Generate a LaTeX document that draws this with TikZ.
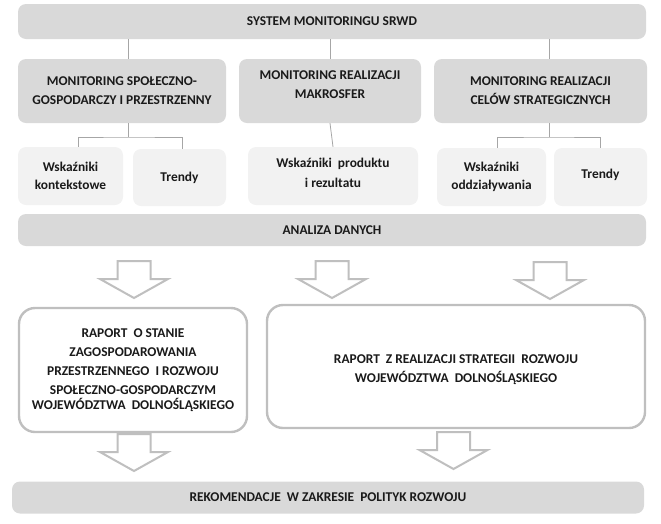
\documentclass[tikz,border=0pt]{standalone}
\usepackage{fontspec}
\setmainfont{Carlito}
\usepackage{xcolor}
\usepackage{tikz}
\usetikzlibrary{calc}
\definecolor{SrwdGray}{HTML}{D9D9D9}
\definecolor{SrwdLight}{HTML}{F2F2F2}
\definecolor{SrwdLine}{HTML}{A6A6A6}
\definecolor{SrwdFrame}{HTML}{BFBFBF}
\definecolor{SrwdText}{HTML}{1A1A1A}
\tikzset{
  basebox/.style={align=center,inner sep=0pt,text=SrwdText,font=\bfseries\fontsize{13.4}{19}\selectfont},
  graybox/.style={basebox,fill=SrwdGray,rounded corners=8pt},
  lightbox/.style={basebox,fill=SrwdLight,rounded corners=8pt,font=\bfseries\fontsize{13.4}{17.5}\selectfont},
  reportbox/.style={basebox,draw=SrwdFrame,line width=2.4pt,fill=white,rounded corners=16pt},
  boxtext/.style={basebox,text=SrwdText},
  link/.style={draw=SrwdLine,line width=0.8pt},
  blockline/.style={draw=SrwdFrame,line width=2pt,line join=miter,fill=white},
  downblock/.pic={\draw[blockline] (-16.5,0) -- (16.5,0) -- (16.5,18) -- (34,18) -- (0,37) -- (-34,18) -- (-16.5,18) -- cycle;}
}

\begin{document}
\begin{tikzpicture}[x=1pt,y=-1pt]
\useasboundingbox (0,0) rectangle (661,523);
% top level
\node[graybox,minimum width=628pt,minimum height=35pt] (sys) at (332,21.5) {SYSTEM MONITORINGU SRWD};
\node[graybox,minimum width=208pt,minimum height=64pt] (mon1) at (122,91) {MONITORING SPOŁECZNO-\\GOSPODARCZY I PRZESTRZENNY};
\node[graybox,minimum width=182pt,minimum height=64pt,
  label={[boxtext,yshift=6pt]center:MONITORING REALIZACJI\\MAKROSFER}] (mon2) at (330,91) {};
\node[graybox,minimum width=213pt,minimum height=64pt] (mon3) at (540.5,91) {MONITORING REALIZACJI\\CELÓW STRATEGICZNYCH};
% indicators
\node[lightbox,minimum width=105pt,minimum height=58pt] (wsk1) at (70.5,176) {Wskaźniki\\kontekstowe};
\node[lightbox,minimum width=93pt,minimum height=57pt] (tr1) at (179.5,177.5) {Trendy};
\node[lightbox,minimum width=170pt,minimum height=58pt,
  label={[boxtext,yshift=3pt,font=\bfseries\fontsize{13.4}{20}\selectfont]center:Wskaźniki\ \ produktu\\i rezultatu}] (wsk2) at (333,176) {};
\node[lightbox,minimum width=109pt,minimum height=58pt] (wsk3) at (491.5,177) {Wskaźniki\\oddziaływania};
\node[lightbox,minimum width=93pt,minimum height=58pt,
  label={[boxtext,yshift=2pt]center:Trendy}] (tr3) at (600.5,177) {};
\node[graybox,minimum width=628pt,minimum height=32pt] (anal) at (332,230) {ANALIZA DANYCH};
% reports
\node[reportbox,minimum width=228pt,minimum height=124pt] (rap1) at (133,370) {RAPORT\ \ O STANIE\\ZAGOSPODAROWANIA\\PRZESTRZENNEGO\ \ I ROZWOJU\\SPOŁECZNO-GOSPODARCZYM\\[-4pt]WOJEWÓDZTWA\ \ DOLNOŚLĄSKIEGO};
\node[reportbox,minimum width=378pt,minimum height=123pt,
  label={[boxtext,yshift=-3pt]center:RAPORT\ \ Z REALIZACJI STRATEGII\ \ ROZWOJU\\WOJEWÓDZTWA\ \ DOLNOŚLĄSKIEGO}] (rap2) at (456,366.5) {};
\node[graybox,minimum width=632pt,minimum height=32pt] (rek) at (328,497.5) {REKOMENDACJE\ \ W ZAKRESIE\ \ POLITYK ROZWOJU};
% connectors
\draw[link] ([xshift=6pt]mon1.north) -- ([xshift=6pt]mon1.north |- sys.south);
\draw[link] (mon2.north) -- (mon2.north |- sys.south);
\draw[link] ([xshift=8.5pt]mon3.north) -- ([xshift=8.5pt]mon3.north |- sys.south);
\coordinate (j1) at (128,137);
\coordinate (j3) at (549,137);
\draw[link] ([xshift=6pt]mon1.south) -- (j1);
\draw[link] ([xshift=7.5pt]wsk1.north) |- (j1) -| ([xshift=2.5pt]tr1.north);
\draw[link] (mon2.south) -- (wsk2.north);
\draw[link] ([xshift=8.5pt]mon3.south) -- (j3);
\draw[link] ([xshift=5.5pt]wsk3.north) |- (j3) -| ([xshift=-0.5pt]tr3.north);
% block arrows
\pic at (134,261) {downblock};
\pic at (332,261) {downblock};
\pic at (550,262) {downblock};
\pic at (134,434) {downblock};
\pic at (453.5,432) {downblock};
\end{tikzpicture}
\end{document}
